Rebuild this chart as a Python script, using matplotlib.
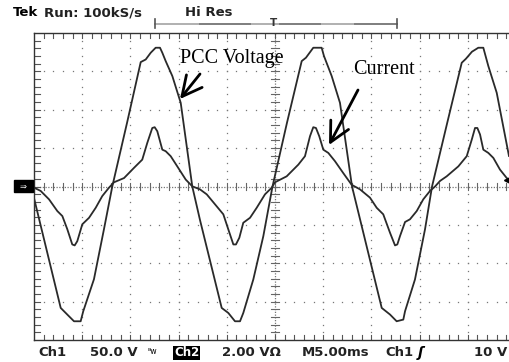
import matplotlib
matplotlib.use("Agg")
import matplotlib.pyplot as plt
from matplotlib.lines import Line2D
from matplotlib.patches import Rectangle, FancyArrowPatch
import numpy as np

v_t = [0.00, 2.77, 3.45, 4.15, 4.84, 5.11, 6.22, 7.26, 8.12,
       9.65, 11.07, 11.59, 12.11, 12.62, 13.07, 13.31, 13.66, 14.35, 15.22, 16.42,
       17.22, 19.47, 20.16, 20.85, 21.37, 21.71, 22.75, 23.79, 24.74,
       26.24, 27.77, 28.21, 28.97, 29.84, 30.08, 30.88, 31.74, 32.99,
       36.07, 36.93, 37.62, 38.31, 38.49, 39.52, 40.56, 41.29,
       42.84, 44.37, 44.81, 45.43, 46.09, 46.61, 47.13, 48.00, 49.27]
v_pcc = [-15.0, -158.2, -166.8, -175.6, -175.6, -162.5, -120.8, -55.5, 0.0,
         82.9, 162.1, 165.5, 174.3, 180.8, 180.8, 174.3, 163.4, 143.9, 109.0, 0.0,
         -43.7, -158.2, -164.8, -175.6, -175.6, -164.8, -121.1, -64.6, 0.0,
         82.9, 163.4, 167.8, 180.8, 180.8, 170.0, 143.9, 109.0, 0.0,
         -158.2, -166.8, -175.6, -173.4, -162.5, -121.1, -55.9, 0.0,
         81.6, 161.2, 166.5, 175.6, 180.8, 180.8, 156.9, 122.1, 39.8]

i_t = [0.00, 0.69, 1.56, 2.42, 2.94, 3.45, 3.97, 4.22, 4.49, 5.01, 5.71, 6.40, 7.08, 7.78,
       8.30, 9.34, 10.37, 11.23, 11.75, 12.27, 12.52, 12.79, 13.31, 13.66, 14.18, 14.86, 15.74, 16.42,
       17.22, 17.92, 18.78, 19.64, 20.16, 20.68, 20.95, 21.30, 21.71, 22.41, 23.10, 23.96, 24.66,
       25.00, 26.21, 27.42, 28.11, 28.63, 28.97, 29.25, 29.59, 30.01, 30.53, 31.22, 32.08, 32.95,
       33.82, 34.85, 35.55, 36.23, 36.93, 37.45, 37.69, 37.97, 38.49, 39.00, 39.70, 40.38, 41.08, 41.60,
       42.12, 42.81, 44.02, 44.89, 45.41, 45.75, 45.99, 46.27, 46.61, 47.13, 47.65, 48.34, 49.04, 49.27]
i_load = [-0.06, -0.23, -0.67, -1.28, -1.54, -2.22, -3.02, -3.07, -2.85, -1.97, -1.63, -1.11, -0.50, -0.06,
          0.22, 0.44, 0.97, 1.40, 2.27, 3.05, 3.09, 2.88, 1.92, 1.84, 1.58, 1.05, 0.36, 0.01,
          -0.15, -0.41, -0.93, -1.45, -2.24, -3.02, -3.02, -2.67, -1.89, -1.63, -1.11, -0.41, -0.06,
          0.22, 0.53, 1.14, 1.58, 2.62, 3.09, 3.05, 2.62, 1.92, 1.75, 1.32, 0.70, 0.09,
          -0.15, -0.58, -1.11, -1.45, -2.41, -3.07, -3.02, -2.58, -1.85, -1.71, -1.28, -0.67, -0.23, 0.00,
          0.29, 0.53, 1.05, 1.58, 2.44, 3.05, 3.05, 2.71, 1.92, 1.75, 1.49, 0.88, 0.44, 0.36]

W, H = 509, 362
fig = plt.figure(figsize=(W / 100, H / 100), dpi=100)
fig.patch.set_facecolor("white")

# graticula: 10 x 8 divisoes, parte da direita sai da imagem
ax = fig.add_axes([34 / W, 22 / H, 482 / W, 307 / H])
ax.set_xlim(0, 50)
ax.set_ylim(-200, 200)
ax.set_xticks([]); ax.set_yticks([])
for s in ax.spines.values():
    s.set_color("#333333"); s.set_linewidth(1.0)

gc = "#777777"
for xg in range(5, 50, 5):
    if xg == 25:
        continue
    yy = np.arange(-200, 201, 10)
    ax.plot([xg] * len(yy), yy, ls="none", marker="s", ms=0.9, color=gc, mec="none")
for yg in range(-150, 151, 50):
    if yg == 0:
        continue
    xx = np.arange(0, 50.1, 1)
    ax.plot(xx, [yg] * len(xx), ls="none", marker="s", ms=0.9, color=gc, mec="none")

# eixos centrais pontilhados com marcas
ax.axhline(0, color=gc, lw=0.9, ls=(0, (1, 1.2)))
ax.axvline(25, color=gc, lw=0.9, ls=(0, (1, 1.2)))
for xx in np.arange(1, 50, 1):
    ax.plot([xx, xx], [-4, 4], color="#666666", lw=0.8)
    ax.plot([xx, xx], [-200, -193], color="#555555", lw=0.8)
    ax.plot([xx, xx], [200, 193], color="#555555", lw=0.8)
for yy in np.arange(-190, 200, 10):
    ax.plot([24.6, 25.4], [yy, yy], color="#666666", lw=0.8)
    ax.plot([0, 0.6], [yy, yy], color="#555555", lw=0.8)

trace = "#2a2a2a"
ax.plot(v_t, v_pcc, color=trace, lw=1.3, solid_joinstyle="round")
ax2 = ax.twinx()
ax2.set_ylim(-8, 8)
ax2.axis("off")
ax2.plot(i_t, i_load, color=trace, lw=1.3, solid_joinstyle="round")

# anotacoes
def px(x, y):
    return (x / W, 1 - y / H)

serif = ["Liberation Serif", "DejaVu Serif"]
fig.text(*px(180, 63), "PCC Voltage", family=serif, fontsize=14.5, va="baseline", ha="left")
fig.text(*px(353, 74), "Current", family=serif, fontsize=14.5, va="baseline", ha="left")
for p0, p1 in [((200, 74), (180, 99)), ((358, 90), (329, 145))]:
    fig.add_artist(FancyArrowPatch(px(*p0), px(*p1), transform=fig.transFigure,
                                   arrowstyle="->,head_length=0.75,head_width=0.38",
                                   mutation_scale=19, color="black", lw=2.0,
                                   shrinkA=0, shrinkB=0))

# textos do osciloscopio
sans = ["DejaVu Sans"]
fs = 9.5
fig.text(*px(13, 13), "Tek", family=sans, fontsize=fs, fontweight="bold", va="center")
fig.text(*px(44, 13), "Run: 100kS/s", family=sans, fontsize=fs, fontweight="bold",
         va="center", color="#222222")
fig.text(*px(185, 13), "Hi Res", family=sans, fontsize=fs, fontweight="bold", va="center",
         color="#222222")

fig.add_artist(Line2D([155 / W, 397 / W], [1 - 23.5 / H] * 2, color="#b0b0b0", lw=1.4,
                      transform=fig.transFigure))
for a, b in [(200, 250), (280, 320), (355, 397)]:
    fig.add_artist(Line2D([a / W, b / W], [1 - 23.5 / H] * 2, color="#808080", lw=1.4,
                          transform=fig.transFigure))
for xb in (155, 397):
    fig.add_artist(Line2D([xb / W, xb / W], [1 - 19 / H, 1 - 28 / H], color="#555555", lw=1.2,
                          transform=fig.transFigure))
fig.text(*px(274, 23), "T", family=sans, fontsize=7.5, fontweight="bold", ha="center", va="center",
         color="#333333")

yb = 353
bold = dict(family=sans, fontsize=fs, fontweight="bold", va="center", color="#222222")
fig.text(*px(38, yb), "Ch1", **bold)
fig.text(*px(90, yb), "50.0 V", **bold)
fig.text(*px(147, yb - 1), "ᴮw", family=sans, fontsize=5.5, va="center")
fig.text(*px(174, yb), "Ch2", family=sans, fontsize=8.5, fontweight="bold", va="center",
         color="white", bbox=dict(boxstyle="square,pad=0.08", fc="black", ec="none"))
fig.text(*px(222, yb), "2.00 VΩ", **bold)
fig.text(*px(302, yb), "M5.00ms", **bold)
fig.text(*px(385, yb), "Ch1", **bold)
fig.text(*px(418, yb), "ʃ", family=sans, fontsize=10, va="center", fontstyle="italic",
         fontweight="bold")
fig.text(*px(507, yb), "10 V", ha="right", **bold)

# marcador do canal (esquerda) e do nivel de disparo (direita)
fig.add_artist(Rectangle((14 / W, 1 - 192 / H), 19 / W, 12 / H, color="black",
                         transform=fig.transFigure))
fig.text(*px(23.5, 186), "⇒", family=sans, fontsize=6, color="white", ha="center", va="center")
fig.add_artist(Line2D([507 / W], [1 - 180 / H], marker="<", ms=5, color="black",
                      transform=fig.transFigure))

fig.savefig("out.png", dpi=100)
